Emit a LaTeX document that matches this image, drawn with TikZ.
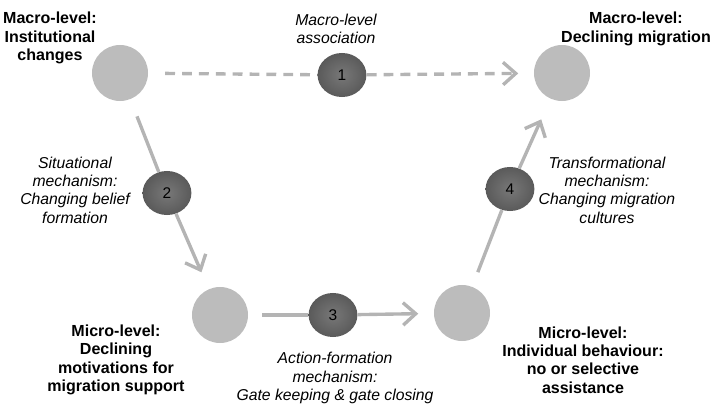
\documentclass[tikz,border=0pt]{standalone}
\usepackage{fontspec}
\setmainfont{Liberation Sans}
\usetikzlibrary{arrows.meta,shapes.geometric}
\definecolor{levelgrey}{HTML}{BCBCBC}
\definecolor{linkgrey}{HTML}{B4B4B4}
\definecolor{mechdark}{HTML}{5A5A5A}
\definecolor{mechlight}{HTML}{787878}
\begin{document}
\begin{tikzpicture}[x=0.025cm,y=-0.025cm,
    level/.style={circle, fill=levelgrey, minimum size=1.4cm, inner sep=0pt},
    mech/.style={ellipse, minimum width=1.22cm, minimum height=1.1cm, inner sep=0pt,
      shading=radial, inner color=mechlight, outer color=mechdark,
      font=\fontsize{11}{12}\selectfont},
    link/.style={draw=linkgrey, line width=2.4pt},
    gap/.style={dash pattern=on 7pt off 5pt},
    linkarrow/.style={link, -{Straight Barb[length=9pt,width=16pt,line width=2.4pt]}},
    bigtxt/.style={align=center, font=\fontsize{11.4}{13}\selectfont\bfseries},
    mechtxt/.style={align=center, font=\fontsize{11.2}{13}\selectfont\itshape}]
    \useasboundingbox (0,0) rectangle (713,407);
    % the four levels
    \node[level] (macroA) at (120,73) {};
    \node[level] (macroB) at (562,73) {};
    \node[level] (microA) at (220,315) {};
    \node[level] (microB) at (462,313) {};
    % mechanisms
    \node[mech] (m1) at (342,75) {1};
    \node[mech] (m2) at (167,193) {2};
    \node[mech] (m3) at (333,315) {3};
    \node[mech] (m4) at (510,189) {4};
    % connectors
    \draw[link, gap, shorten <=12pt] (macroA) -- (m1);
    \draw[linkarrow, gap, shorten >=11pt] (m1) -- (macroB);
    \draw[link, shorten <=13pt] (macroA) -- (m2);
    \draw[linkarrow, shorten >=13pt] (m2) -- (microA);
    \draw[link, shorten <=10pt] (microA) -- (m3);
    \draw[linkarrow, shorten >=11pt] (m3) -- (microB);
    \draw[link, shorten <=11pt] (microB) -- (m4);
    \draw[linkarrow, shorten >=16pt] (m4) -- (macroB);
    % labels
    \node[bigtxt] (tA) at (50,38) {Macro-level:\\Institutional\\changes};
    \node[bigtxt] (tB) at (636,29) {Macro-level:\\Declining migration};
    \node[bigtxt] (tC) at (116,360) {Micro-level:\\Declining\\motivations for\\migration support};
    \node[bigtxt] (tD) at (583,360) {Micro-level:\\Individual behaviour:\\no or selective\\assistance};
    \node[mechtxt] (t1) at (336,29) {Macro-level\\association};
    \node[mechtxt] (t2) at (75,190) {Situational\\mechanism:\\Changing belief\\formation};
    \node[mechtxt] (t3) at (335,378) {Action-formation\\mechanism:\\Gate keeping \& gate closing};
    \node[mechtxt] (t4) at (607,190) {Transformational\\mechanism:\\Changing migration\\cultures};
\end{tikzpicture}
\end{document}
